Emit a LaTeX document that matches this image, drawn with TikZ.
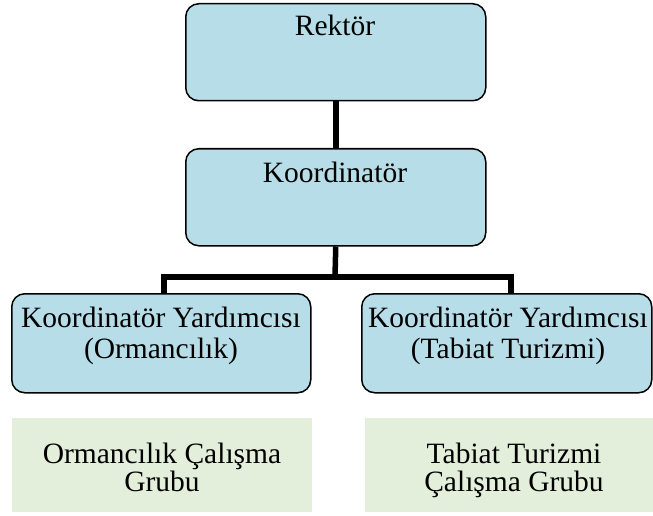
\documentclass[tikz,border=0pt]{standalone}
\usepackage{fontspec}
\setmainfont{Liberation Serif}
\definecolor{boxblue}{HTML}{B7DEE8}
\definecolor{boxgreen}{HTML}{E3EFDA}
\begin{document}
\begin{tikzpicture}[x=1pt,y=-1pt,
  bluebox/.style={draw=black, line width=1.5pt, fill=boxblue, rounded corners=13pt, inner sep=0pt, anchor=north west},
  greenbox/.style={fill=boxgreen, inner sep=0pt, anchor=north west},
  lbl/.style={font=\fontsize{29.5}{31}\selectfont, inner sep=0pt, align=center, anchor=base},
  glbl/.style={font=\fontsize{29.5}{28}\selectfont, inner sep=0pt, align=center, anchor=base},
  conn/.style={line width=5.5pt, black}]
\useasboundingbox (0,0) rectangle (653,516);
\node[bluebox, minimum width=300pt, minimum height=97pt] (rek) at (185,3) {};
\node[bluebox, minimum width=300pt, minimum height=97pt] (kor) at (185,148) {};
\node[bluebox, minimum width=299pt, minimum height=99pt] (yl) at (11,293) {};
\node[bluebox, minimum width=290pt, minimum height=99pt] (yr) at (361,293) {};
\node[greenbox, minimum width=300pt, minimum height=94pt] (gl) at (12,418) {};
\node[greenbox, minimum width=288pt, minimum height=94pt] (gr) at (365,418) {};
\node[lbl] (trek) at (335,36) {Rektör};
\node[lbl] (tkor) at (335,182) {Koordinatör};
\node[lbl] (tyl) at (161,358) {Koordinatör Yardımcısı\\(Ormancılık)};
\node[lbl] (tyr) at (508,358) {Koordinatör Yardımcısı\\(Tabiat Turizmi)};
\node[glbl] (tgl) at (162,491) {Ormancılık Çalışma\\Grubu};
\node[glbl] (tgr) at (514,491) {Tabiat Turizmi\\Çalışma Grubu};
\coordinate (bar) at (335,277);
\draw[conn] (rek.south) -- (kor.north);
\draw[conn] (kor.south) -- (bar);
\draw[conn] ([xshift=2.5pt]yl.north) |- (bar) -| ([xshift=4pt]yr.north);
\end{tikzpicture}
\end{document}
